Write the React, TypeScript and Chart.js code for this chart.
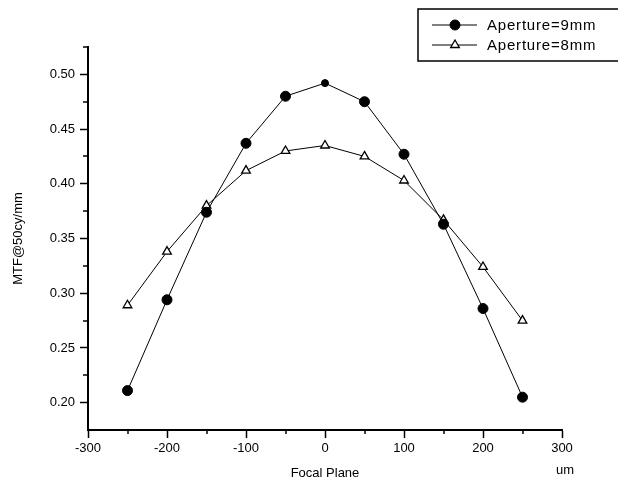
import { useEffect, useRef } from 'react';
import { Chart, registerables } from 'chart.js';

Chart.register(...registerables);

const FOCAL_PLANE = [-250, -200, -150, -100, -50, 0, 50, 100, 150, 200, 250];
const MTF_9MM = [0.211, 0.294, 0.374, 0.437, 0.48, 0.492, 0.475, 0.427, 0.363, 0.286, 0.205];
const MTF_8MM = [0.289, 0.338, 0.38, 0.412, 0.43, 0.435, 0.425, 0.403, 0.367, 0.324, 0.275];
const SERIES_LABELS = ['Aperture=9mm', 'Aperture=8mm'];
const X_TICKS = [-300, -200, -100, 0, 100, 200, 300];
const X_MINOR = [-250, -150, -50, 50, 150, 250];
const Y_TICKS = [0.2, 0.25, 0.3, 0.35, 0.4, 0.45, 0.5];
const Y_MINOR = [0.225, 0.275, 0.325, 0.375, 0.425, 0.475, 0.525];
const X_TITLE = 'Focal Plane';
const X_UNIT = 'um';
const Y_TITLE = 'MTF@50cy/mm';

const FONT = 'Arial, "Liberation Sans", sans-serif';

const extrasPlugin = {
  id: 'extras',
  afterDraw(chart: any) {
    const { ctx, chartArea: ca } = chart;
    const xs = chart.scales.x;
    const ys = chart.scales.y;
    ctx.save();
    ctx.strokeStyle = '#000';
    ctx.lineWidth = 1.5;
    Y_MINOR.forEach((v) => {
      const py = Math.round(ys.getPixelForValue(v));
      ctx.beginPath();
      ctx.moveTo(ca.left - 5, py);
      ctx.lineTo(ca.left, py);
      ctx.stroke();
    });
    X_MINOR.forEach((v) => {
      const px = Math.round(xs.getPixelForValue(v));
      ctx.beginPath();
      ctx.moveTo(px, ca.bottom);
      ctx.lineTo(px, ca.bottom + 4);
      ctx.stroke();
    });

    // unit label
    ctx.fillStyle = '#000';
    ctx.font = `13px ${FONT}`;
    ctx.textAlign = 'center';
    ctx.textBaseline = 'middle';
    ctx.fillText(X_UNIT, xs.getPixelForValue(300) + 3, 470);

    // legend
    const bx = 418, by = 9, bw = 240, bh = 52;
    ctx.lineWidth = 1.5;
    ctx.strokeRect(bx, by, bw, bh);
    chart.data.datasets.forEach((ds: any, i: number) => {
      const y = 25 + i * 20;
      ctx.lineWidth = 1;
      ctx.strokeStyle = '#000';
      ctx.beginPath();
      ctx.moveTo(432, y);
      ctx.lineTo(477, y);
      ctx.stroke();
      ctx.fillStyle = ds.pointBackgroundColor;
      ctx.lineWidth = ds.pointBorderWidth;
      ctx.beginPath();
      if (ds.pointStyle === 'triangle') {
        const r = 5;
        ctx.moveTo(455, y - r);
        ctx.lineTo(455 + r * 0.866, y + r * 0.5);
        ctx.lineTo(455 - r * 0.866, y + r * 0.5);
        ctx.closePath();
      } else {
        ctx.arc(455, y, 5, 0, Math.PI * 2);
      }
      ctx.fill();
      ctx.stroke();
      ctx.fillStyle = '#000';
      ctx.font = `15px ${FONT}`;
      (ctx as any).letterSpacing = '0.8px';
      ctx.textAlign = 'left';
      ctx.textBaseline = 'middle';
      ctx.fillText(ds.label, 487, y + 1);
      (ctx as any).letterSpacing = '0px';
    });
    ctx.restore();
  },
};

export default function App() {
  const ref = useRef<HTMLCanvasElement>(null);

  useEffect(() => {
    if (!ref.current) return;
    const chart = new Chart(ref.current, {
      type: 'line',
      data: {
        datasets: [
          {
            label: SERIES_LABELS[0],
            data: FOCAL_PLANE.map((x, i) => ({ x, y: MTF_9MM[i] })),
            borderColor: '#000',
            borderWidth: 1,
            pointStyle: 'circle',
            pointRadius: [5, 5, 5, 5, 5, 3.5, 5, 5, 5, 5, 5],
            pointBackgroundColor: '#000',
            pointBorderColor: '#000',
            pointBorderWidth: 1,
            tension: 0,
            fill: false,
          },
          {
            label: SERIES_LABELS[1],
            data: FOCAL_PLANE.map((x, i) => ({ x, y: MTF_8MM[i] })),
            borderColor: '#000',
            borderWidth: 1,
            pointStyle: 'triangle',
            pointRadius: 5,
            pointBackgroundColor: '#fff',
            pointBorderColor: '#000',
            pointBorderWidth: 1.3,
            tension: 0,
            fill: false,
          },
        ],
      },
      options: {
        animation: false,
        responsive: false,
        maintainAspectRatio: false,
        layout: { padding: { left: 0, top: 47, right: 56, bottom: 0 } },
        plugins: {
          legend: { display: false },
          tooltip: { enabled: false },
        },
        scales: {
          x: {
            type: 'linear',
            min: -300,
            max: 300,
            afterFit: (s: any) => {
              s.height = 51;
            },
            afterBuildTicks: (s: any) => {
              s.ticks = X_TICKS.map((value) => ({ value }));
            },
            border: { display: true, color: '#000', width: 2 },
            grid: {
              display: true,
              drawOnChartArea: false,
              drawTicks: true,
              tickLength: 8,
              tickColor: '#000',
              tickWidth: 1.5,
            },
            ticks: {
              color: '#000',
              font: { family: FONT, size: 13 },
              padding: 3,
              maxRotation: 0,
              callback: (v: any) => String(v),
            },
            title: {
              display: true,
              text: X_TITLE,
              color: '#000',
              font: { family: FONT, size: 13 },
              padding: { top: 0, bottom: 0 },
            },
          },
          y: {
            type: 'linear',
            min: 0.175,
            max: 0.525,
            afterFit: (s: any) => {
              s.width = 88;
            },
            afterBuildTicks: (s: any) => {
              s.ticks = Y_TICKS.map((value) => ({ value }));
            },
            border: { display: true, color: '#000', width: 2 },
            grid: {
              display: true,
              drawOnChartArea: false,
              drawTicks: true,
              tickLength: 8,
              tickColor: '#000',
              tickWidth: 1.5,
            },
            ticks: {
              color: '#000',
              font: { family: FONT, size: 13 },
              padding: 5,
              callback: (v: any) => Number(v).toFixed(2),
            },
            title: {
              display: true,
              text: Y_TITLE,
              color: '#000',
              font: { family: FONT, size: 13 },
              padding: { top: 11, bottom: 0 },
            },
          },
        },
      },
      plugins: [extrasPlugin],
    });
    return () => chart.destroy();
  }, []);

  return (
    <div style={{ position: 'fixed', left: 0, top: 0, width: 618, height: 481, background: '#fff' }}>
      <canvas ref={ref} width={618} height={481} style={{ display: 'block' }} />
    </div>
  );
}
